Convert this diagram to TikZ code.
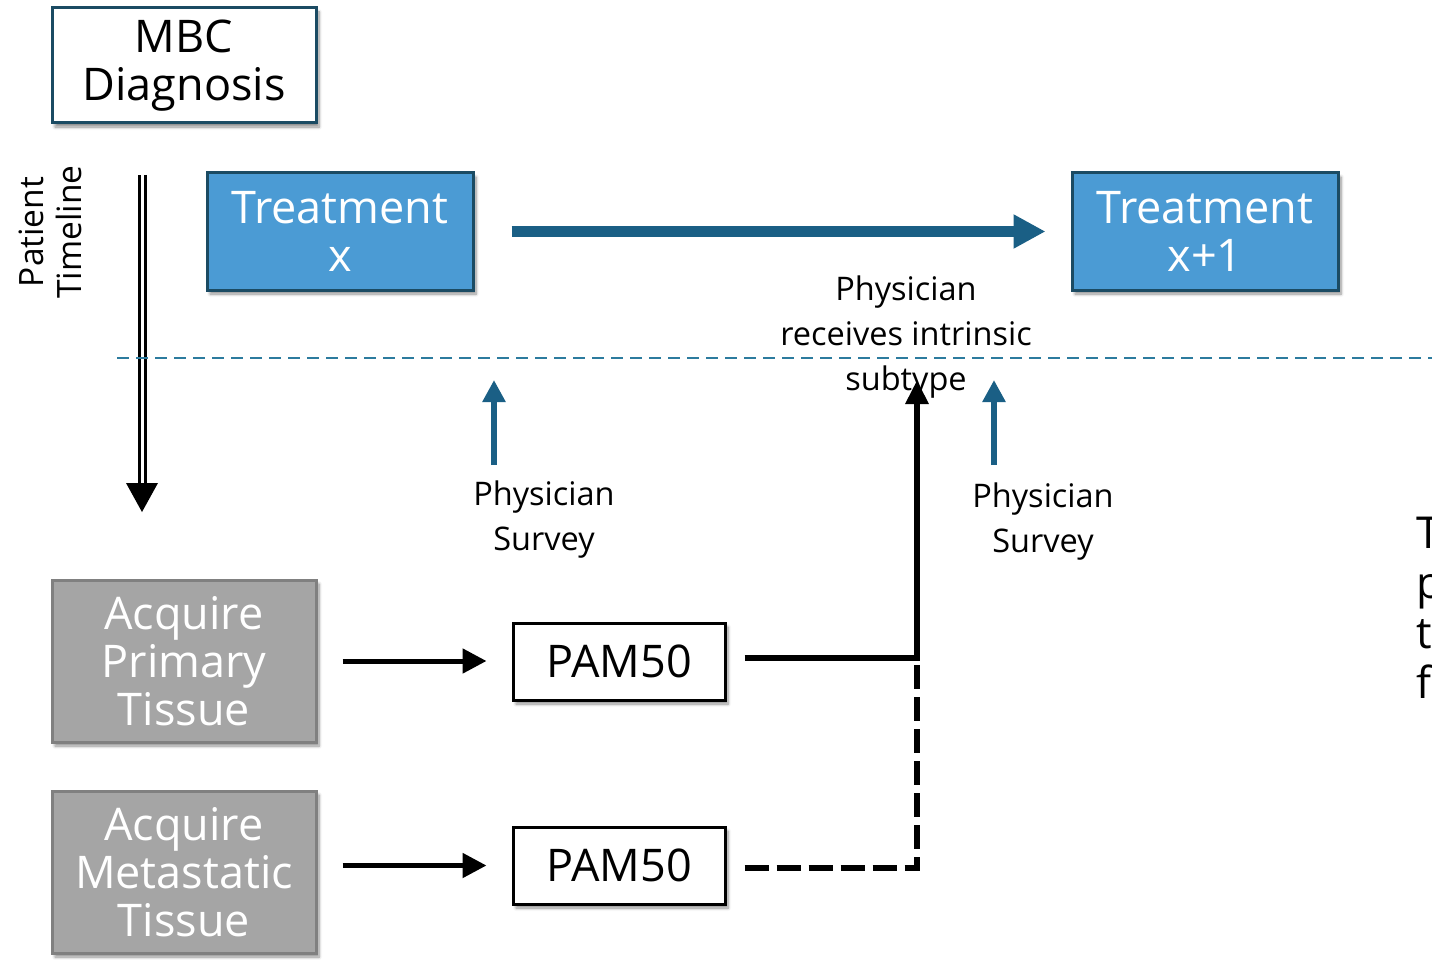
\documentclass[tikz,border=0pt]{standalone}
\usepackage{fontspec}
\setmainfont{Open Sans}
\usetikzlibrary{arrows.meta,shadows.blur,positioning}
\definecolor{bordteal}{RGB}{27,75,99}
\definecolor{boxblue}{RGB}{75,155,212}
\definecolor{arrteal}{RGB}{26,95,133}
\definecolor{dashteal}{RGB}{44,123,158}
\definecolor{boxgray}{RGB}{165,165,165}
\definecolor{bordgray}{RGB}{128,128,128}
\tikzset{
  shad/.style={blur shadow={shadow xshift=3pt,shadow yshift=-4pt,shadow blur steps=6,shadow blur radius=3pt,shadow opacity=45}},
  bigtxt/.style={font=\fontsize{45}{48}\selectfont, align=center},
  mbcbox/.style={shad, draw=bordteal, line width=3pt, fill=white, minimum width=264pt, minimum height=115pt, inner sep=0pt, bigtxt},
  treatbox/.style={shad, draw=bordteal, line width=3pt, fill=boxblue, text=white, minimum width=266pt, minimum height=117pt, inner sep=0pt, bigtxt},
  acqbox/.style={shad, draw=bordgray, line width=3pt, fill=boxgray, text=white, minimum width=264pt, minimum height=162pt, inner sep=0pt, bigtxt},
  pambox/.style={shad, draw=black, line width=3pt, fill=white, minimum width=212pt, minimum height=77pt, inner sep=0pt, font=\fontsize{45}{48}\selectfont},
  smalltxt/.style={font=\fontsize{32.5}{45}\selectfont, align=center, inner sep=0pt},
  bluearrow/.style={draw=arrteal, line width=10pt, -{Triangle[length=32pt,width=32pt]}},
  bluesmall/.style={draw=arrteal, line width=6pt, -{Triangle[length=22pt,width=22pt]}},
  blackarrow/.style={draw=black, line width=5pt, -{Triangle[length=24pt,width=24pt]}},
  feedline/.style={draw=black, line width=6pt},
}
\begin{document}
\begin{tikzpicture}[x=1pt,y=-1pt]
\useasboundingbox (0,0) rectangle (1432,960);
% boxes
\node[mbcbox] (mbc) at (184,65.5) {MBC\\Diagnosis};
\node[treatbox] (tx) at (340,231.5) {Treatment\\x};
\node[treatbox] (tx1) at (1205,231.5) {Treatment\\x+1};
\node[acqbox] (acqp) at (184,661) {Acquire\\Primary\\Tissue};
\node[acqbox] (acqm) at (184,872) {Acquire\\Metastatic\\Tissue};
\node[pambox] (pam1) at (619,661.5) {PAM50};
\node[pambox] (pam2) at (619,865.5) {PAM50};
% timeline label
\node[rotate=90, font=\fontsize{33.5}{38}\selectfont, align=center, inner sep=0pt] (ptl) at (50,232) {Patient\\Timeline};
% timeline double arrow
\coordinate (tla) at (142,175);
\coordinate (tlb) at (142,483);
\coordinate (tlc) at (142,512);
\draw[line width=3pt, double=white, double distance=3pt, draw=black] (tla) -- (tlb);
\fill[black] ([xshift=-16pt]tlb) -- ([xshift=16pt]tlb) -- (tlc) -- cycle;
% dashed separator
\coordinate (sepa) at (117,358);
\coordinate (sepb) at (1432,358);
\draw[dashteal, line width=2pt, dash pattern=on 12pt off 7pt] (sepa) -- (sepb);
% treatment arrow
\draw[bluearrow, shorten <=37pt, shorten >=25pt] (tx.east) -- (tx1.west);
% receives text
\node[smalltxt] (recv) at (906,337) {Physician\\receives intrinsic\\subtype};
% surveys
\node[smalltxt] (surv1) at (544,520) {Physician\\Survey};
\node[smalltxt] (surv2) at (1043,522) {Physician\\Survey};
\coordinate (s1a) at (494,465);
\coordinate (s1b) at (494,380);
\coordinate (s2a) at (994,465);
\coordinate (s2b) at (994,380);
\draw[bluesmall] (s1a) -- (s1b);
\draw[bluesmall] (s2a) -- (s2b);
% acquire -> pam
\draw[blackarrow, shorten <=25pt, shorten >=25pt] (acqp.east) -- (pam1.west |- acqp.east);
\draw[blackarrow, shorten <=25pt, shorten >=25pt] (acqm.east |- pam2.west) -- (pam2.west);
% pam -> physician
\coordinate (j1) at (917,658);
\coordinate (tip) at (917,380);
\coordinate (j2) at (917,868);
\draw[feedline, -{Triangle[length=24pt,width=22pt]}] ([xshift=18pt,yshift=3.5pt]pam1.east) -- (j1) -- (tip);
\draw[feedline, dash pattern=on 24pt off 8pt] ([xshift=18pt,yshift=-2.5pt]pam2.east) -- (j2) -- ([yshift=8pt]j1);
% cut-off text at right edge
\node[anchor=west, align=left, font=\fontsize{44}{50}\selectfont, inner sep=0pt] (cut) at (1416,608) {T\\p\\t\\f};
\end{tikzpicture}
\end{document}
